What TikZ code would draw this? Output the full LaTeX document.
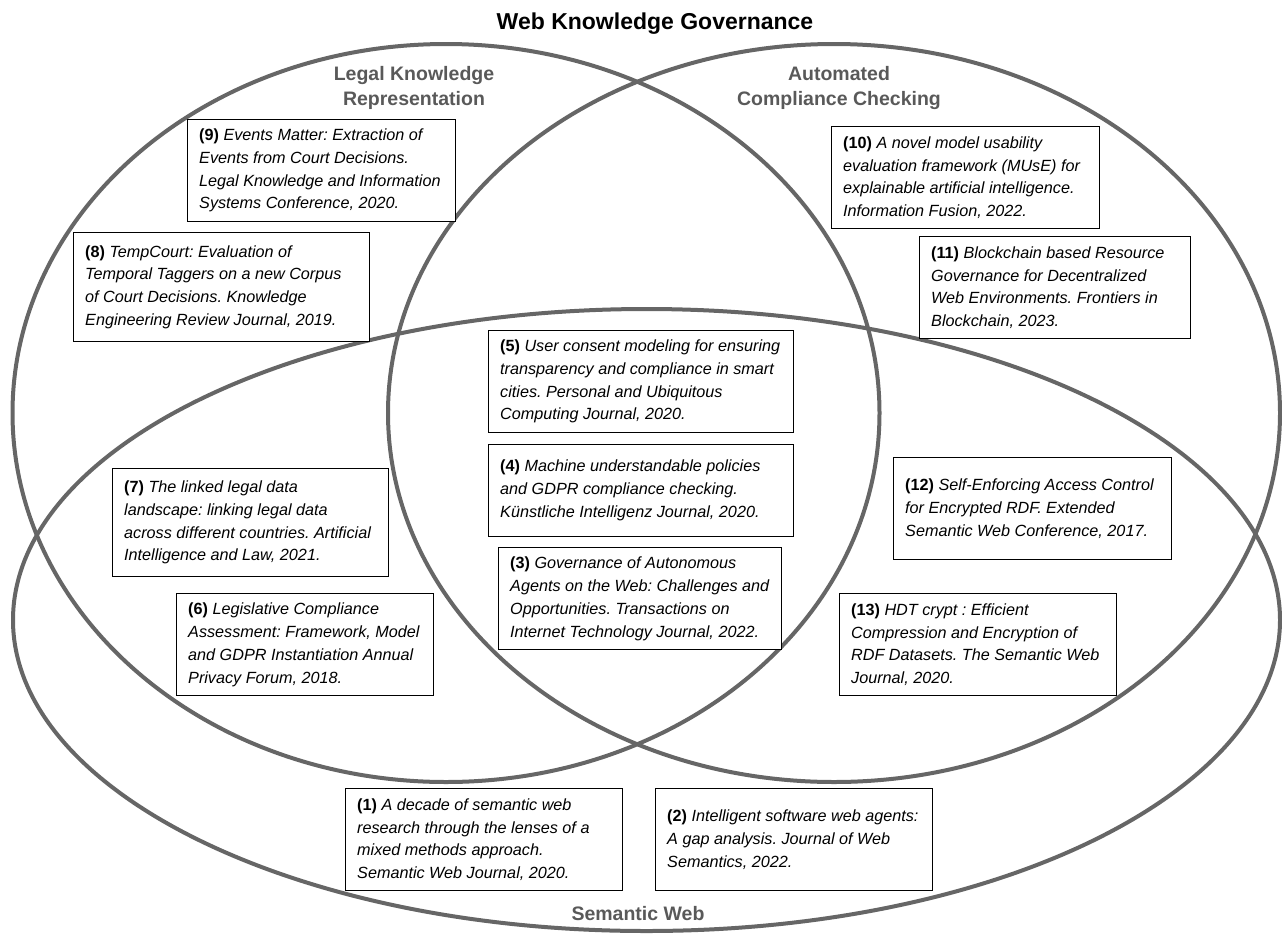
\documentclass[tikz,border=0pt]{standalone}
\usepackage{fontspec}
\setmainfont{Liberation Sans}
\definecolor{ringgray}{HTML}{666666}
\definecolor{labelgray}{HTML}{595959}
% a framed reference: #1 name, #2 left, #3 top, #4 width, #5 height, #6 text
\newcommand\paperbox[6]{%
  \node[paper, minimum width=#4pt, minimum height=#5pt, anchor=north west] (#1) at (#2,#3) {};
  \node[papertext, anchor=west] (#1t) at ([xshift=12pt]#1.west) {#6};
}
\newcommand\pno[1]{\textbf{\upshape(#1)}}
\begin{document}
\frenchspacing
\begin{tikzpicture}[x=1pt, y=-1pt,
  ring/.style={draw=ringgray, line width=4pt},
  paper/.style={draw=black, line width=1.2pt, fill=white, inner sep=0pt},
  papertext/.style={inner sep=0pt, align=left, font=\fontsize{16.2}{22.8}\selectfont\itshape\frenchspacing},
  setlabel/.style={text=labelgray, align=center, inner sep=0pt, font=\fontsize{19.5}{25}\selectfont\bfseries}]
\useasboundingbox (0,0) rectangle (1282,935);

% the three sets
\draw[ring] (446,413) ellipse [x radius=433.5pt, y radius=369pt];
\draw[ring] (834,413) ellipse [x radius=446pt, y radius=369pt];
\draw[ring] (646.5,620) ellipse [x radius=633.5pt, y radius=311pt];

% headings
\node[anchor=base, inner sep=0pt, font=\fontsize{23}{27}\selectfont\bfseries] (title) at (655,29.3) {Web Knowledge Governance};
\node[setlabel] (lkr) at (414,87.5) {Legal Knowledge\\Representation};
\node[setlabel] (acc) at (839,87.5) {Automated\\Compliance Checking};
\node[setlabel, anchor=base] (sw) at (638,920) {Semantic Web};

% references
\paperbox{p9}{187}{119}{268}{102}{\pno{9} Events Matter: Extraction of\\Events from Court Decisions.\\Legal Knowledge and Information\\Systems Conference, 2020.}
\paperbox{p8}{73}{232}{296}{109}{\pno{8} TempCourt: Evaluation of\\Temporal Taggers on a new Corpus\\of Court Decisions. Knowledge\\Engineering Review Journal, 2019.}
\paperbox{p10}{831}{126}{268}{102}{\pno{10} A novel model usability\\evaluation framework (MUsE) for\\explainable artificial intelligence.\\Information Fusion, 2022.}
\paperbox{p11}{919}{236}{271}{102}{\pno{11} Blockchain based Resource\\Governance for Decentralized\\Web Environments. Frontiers in\\Blockchain, 2023.}
\paperbox{p5}{488}{330}{305}{102}{\pno{5} User consent modeling for ensuring\\transparency and compliance in smart\\cities. Personal and Ubiquitous\\Computing Journal, 2020.}
\paperbox{p4}{488}{444}{305}{92}{\pno{4} Machine understandable policies\\and GDPR compliance checking.\\Künstliche Intelligenz Journal, 2020.}
\paperbox{p3}{498}{547}{283}{102}{\pno{3} Governance of Autonomous\\Agents on the Web: Challenges and\\Opportunities. Transactions on\\Internet Technology Journal, 2022.}
\paperbox{p7}{112}{468}{276}{108}{\pno{7} The linked legal data\\landscape: linking legal data\\across different countries. Artificial\\Intelligence and Law, 2021.}
\paperbox{p6}{176}{593}{257}{102}{\pno{6} Legislative Compliance\\Assessment: Framework, Model\\and GDPR Instantiation Annual\\Privacy Forum, 2018.}
\paperbox{p12}{893}{457}{278}{102}{\pno{12} Self-Enforcing Access Control\\for Encrypted RDF. Extended\\Semantic Web Conference, 2017.}
\paperbox{p13}{839}{593}{277}{102}{\pno{13} HDT crypt : Efficient\\Compression and Encryption of\\RDF Datasets. The Semantic Web\\Journal, 2020.}
\paperbox{p1}{345}{788}{277}{102}{\pno{1} A decade of semantic web\\research through the lenses of a\\mixed methods approach.\\Semantic Web Journal, 2020.}
\paperbox{p2}{655}{788}{277}{102}{\pno{2} Intelligent software web agents:\\A gap analysis. Journal of Web\\Semantics, 2022.}
\end{tikzpicture}
\end{document}
